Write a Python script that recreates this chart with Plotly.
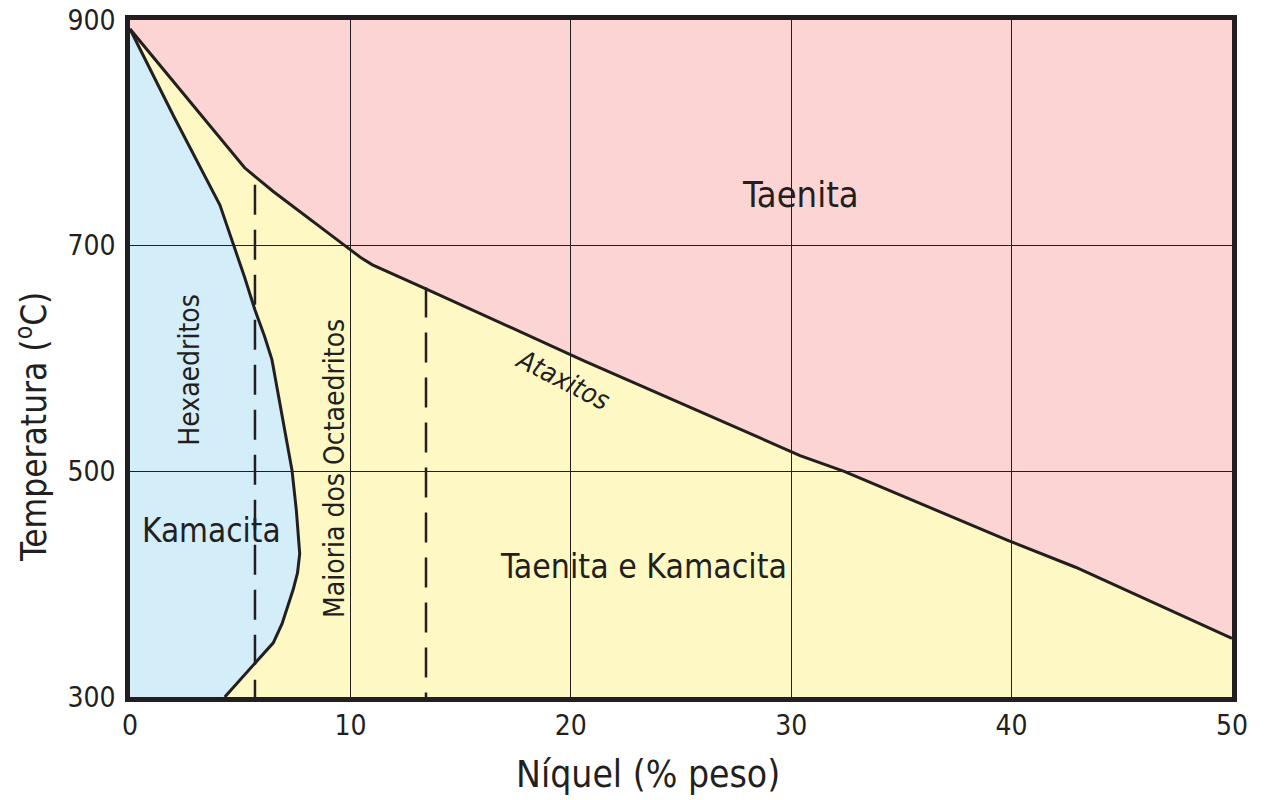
import plotly.graph_objects as go

# Upper boundary: Taenita / (Taenita e Kamacita)
taen_x = [0, 2.6, 5.2, 6.5, 7.7, 8.8, 9.75, 10.5, 11.0, 13.4, 20.6, 30.4, 32.4, 39.8, 42.9, 50]
taen_y = [892, 830, 769, 748, 730, 714, 700, 689, 683, 662, 598, 514, 500, 439, 415, 352]

# Kamacita boundary
kam_x = [0, 2.0, 4.08, 4.4, 4.7, 5.2, 5.67, 6.1, 6.44, 6.9, 7.35, 7.55, 7.7, 7.6, 7.4, 6.9, 6.5, 5.67, 4.3]
kam_y = [892, 814, 736, 718, 700, 672, 643, 620, 599, 550, 501, 465, 427, 410, 395, 365, 348, 330, 300]

# Dashed class limits (Hexaedritos / Octaedritos)
dash1_x = [5.67, 5.67]
dash1_y = [754, 300]
dash2_x = [13.43, 13.43]
dash2_y = [663, 300]

x_ticks = [0, 10, 20, 30, 40, 50]
y_ticks = [300, 500, 700, 900]

x_min, x_max = 0, 50
y_min, y_max = 300, 900

PINK = "#FCD4D3"
YELLOW = "#FEF9C4"
BLUE = "#D4EEF9"
DARK = "#231F20"
FONT = "DejaVu Sans Condensed, DejaVu Sans, sans-serif"


def poly_path(xs, ys):
    pts = " L ".join(f"{a},{b}" for a, b in zip(xs, ys))
    return "M " + pts + " Z"


fig = go.Figure()

yx = taen_x + [x_max, x_min]
yy = taen_y + [y_min, y_min]
bx = kam_x + [x_min]
by = kam_y + [y_min]

fig.add_shape(type="path", path=poly_path(yx, yy), xref="x", yref="y",
              fillcolor=YELLOW, line=dict(width=0), layer="below")
fig.add_shape(type="path", path=poly_path(bx, by), xref="x", yref="y",
              fillcolor=BLUE, line=dict(width=0), layer="below")

fig.add_trace(go.Scatter(x=taen_x, y=taen_y, mode="lines",
                         line=dict(color=DARK, width=3), hoverinfo="skip", showlegend=False))
fig.add_trace(go.Scatter(x=kam_x, y=kam_y, mode="lines",
                         line=dict(color=DARK, width=3), hoverinfo="skip", showlegend=False))
for dx, dy in [(dash1_x, dash1_y), (dash2_x, dash2_y)]:
    fig.add_trace(go.Scatter(x=dx, y=dy, mode="lines",
                             line=dict(color=DARK, width=2.5, dash="30px,15px"),
                             hoverinfo="skip", showlegend=False))

annots = [
    dict(x=30.4, y=745, text="Taenita", size=36, angle=0),
    dict(x=3.72, y=448, text="Kamacita", size=33, angle=0),
    dict(x=23.3, y=416, text="Taenita e Kamacita", size=33.5, angle=0),
    dict(x=2.72, y=590, text="Hexaedritos", size=28, angle=-90),
    dict(x=9.3, y=503, text="Maioria dos Octaedritos", size=28, angle=-90),
    dict(x=19.65, y=581, text="<i>Ataxitos</i>", size=27, angle=27),
]
for a in annots:
    fig.add_annotation(x=a["x"], y=a["y"], xref="x", yref="y", text=a["text"],
                       showarrow=False, textangle=a["angle"],
                       font=dict(family=FONT, size=a["size"], color=DARK))

# Axis titles (placed as in the reference, not centred on the plot area)
fig.add_annotation(x=0.470, y=-0.115, xref="paper", yref="paper",
                   text="Níquel (% peso)", showarrow=False, xanchor="center", yanchor="middle",
                   font=dict(family=FONT, size=37, color=DARK))
fig.add_annotation(x=-0.089, y=0.400, xref="paper", yref="paper",
                   text="Temperatura (<sup>o</sup>C)", showarrow=False, textangle=-90,
                   xanchor="center", yanchor="middle",
                   font=dict(family=FONT, size=35, color=DARK))

tick_font = dict(family=FONT, size=28, color=DARK)
fig.update_xaxes(range=[x_min, x_max], tickvals=x_ticks, ticks="", ticklabelstandoff=0,
                 showgrid=True, gridcolor=DARK, gridwidth=1, automargin=False,
                 showline=True, linecolor=DARK, linewidth=4.5, mirror=True,
                 zeroline=False, tickfont=tick_font)
fig.update_yaxes(range=[y_min, y_max], tickvals=y_ticks, ticks="", ticklabelstandoff=4,
                 showgrid=True, gridcolor=DARK, gridwidth=1, automargin=False,
                 showline=True, linecolor=DARK, linewidth=4.5, mirror=True,
                 zeroline=False, tickfont=tick_font)

fig.update_layout(width=1266, height=800, margin=dict(l=130, r=34, t=20, b=103),
                  plot_bgcolor=PINK, paper_bgcolor="white", showlegend=False)

fig.write_html("out.html", config={"displayModeBar": False},
               post_script="document.body.style.margin='0';document.body.style.overflow='hidden';")
